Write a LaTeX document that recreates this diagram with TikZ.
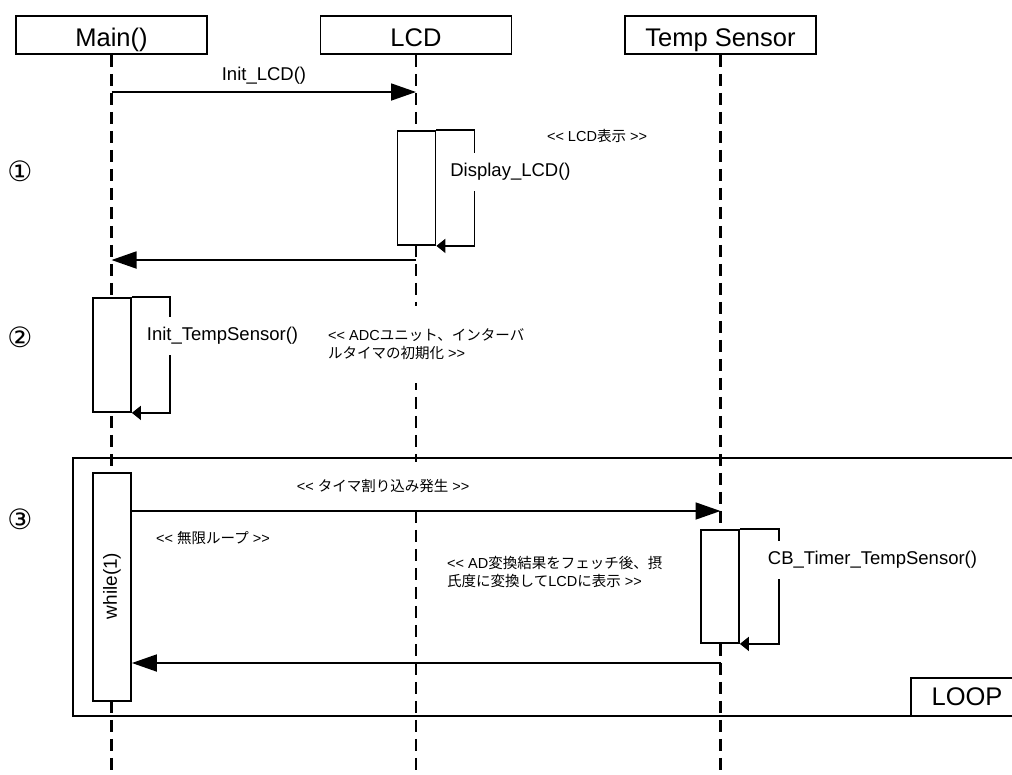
\documentclass[tikz,border=0pt]{standalone}
\usepackage{fontspec}
\setmainfont{Liberation Sans}
\newfontfamily\cjk[Scale=1.0]{Noto Sans CJK JP}
\newfontfamily\circfont{DejaVu Sans}
\usetikzlibrary{arrows.meta}
\newcommand\LL{<\kern0pt<}
\newcommand\GG{>\kern0pt>}
\tikzset{
  hdr/.style={draw, line width=1.8pt, minimum width=191pt, minimum height=38pt, inner sep=0pt, text height=25pt, text depth=2.7pt, font=\fontsize{25.5}{30}\selectfont},
  life/.style={line width=2.8pt, dash pattern=on 12pt off 7pt},
  act/.style={draw, fill=white, line width=1.8pt, minimum width=38pt, inner sep=0pt},
  msg/.style={line width=1.8pt, -{Triangle[length=25pt,width=17pt]}},
  selfmsg/.style={line width=1.8pt, -{Triangle[length=9pt,width=14pt]}},
  lbl/.style={fill=white, inner xsep=1pt, inner ysep=10pt, font=\fontsize{18.5}{22}\selectfont},
  note/.style={inner sep=0pt, font=\fontsize{14.5}{17.5}\selectfont},
  num/.style={inner sep=0pt, font=\circfont\fontsize{28}{30}\selectfont},
  frame/.style={line width=1.8pt}
}
\begin{document}
\begin{tikzpicture}[x=1pt,y=-1pt]
\useasboundingbox (0,0) rectangle (1012,774);
% headers
\node[hdr] (main) at (111.5,35) {Main()};
\node[hdr] (lcd) at (416,35) {LCD};
\node[hdr] (temp) at (720.5,35) {Temp Sensor};
% lifeline ends
\coordinate (mainEnd) at (main.south |- 0,774);
\coordinate (lcdEnd) at (lcd.south |- 0,774);
\coordinate (tempEnd) at (temp.south |- 0,774);
\draw[life] (main.south) -- (mainEnd);
\draw[life] (lcd.south) -- (lcdEnd);
\draw[life] (temp.south) -- (tempEnd);
% loop frame
\coordinate (fTR) at (1012,458);
\coordinate (fBL) at (73,716);
\coordinate (fBR) at (1012,716);
\draw[frame] (fTR) -| (fBL) -- (fBR);
\coordinate (tagBL) at (911,716);
\coordinate (tagTR) at (1012,678);
\draw[frame] (tagBL) |- (tagTR);
\node[font=\fontsize{25.5}{30}\selectfont, inner sep=0pt] (loop) at (967,697) {LOOP};
% notes (white background hides lifelines)
\node[note] (n1) at (597,136) {\LL{} LCD{\cjk 表示} \GG};
\node[note, fill=white, align=left, anchor=west, minimum height=77pt] (n2) at (328,344) {\LL{} ADC{\cjk ユニット、インターバ}\\{\cjk ルタイマの初期化} \GG};
\node[note, fill=white, minimum height=48pt] (n3) at (383,486) {\LL{} {\cjk タイマ割り込み発生} \GG};
\node[note] (n4) at (213,538) {\LL{} {\cjk 無限ループ} \GG};
\node[note, align=left, anchor=west] (n5) at (447,572) {\LL{} AD{\cjk 変換結果をフェッチ後、摂}\\{\cjk 氏度に変換して}LCD{\cjk に表示} \GG};
% activations
\node[act, minimum height=114pt] (a1) at (416.5,188) {};
\node[act, minimum height=114pt] (a2) at (112,355) {};
\node[act, minimum height=228pt] (wh) at (112,587) {};
\node[act, minimum height=113pt] (a3) at (720,586.5) {};
% self calls
\draw[selfmsg] (a1.north east) -- ++(38,0) |- (a1.south east);
\draw[selfmsg] (a2.north east) -- ++(38,0) |- (a2.south east);
\draw[selfmsg] (a3.north east) -- ++(39,0) |- (a3.south east);
\node[lbl] (l1) at (510.5,172) {Display\_LCD()};
\node[lbl] (l2) at (222.5,336) {Init\_TempSensor()};
\node[lbl] (l3) at (872.5,560) {CB\_Timer\_TempSensor()};
% messages
\draw[msg] (main.south |- 0,92) -- (lcd.south |- 0,92);
\node[font=\fontsize{18.5}{22}\selectfont, inner sep=0pt] (m1) at (264,76) {Init\_LCD()};
\draw[msg] (lcd.south |- 0,260) -- (main.south |- 0,260);
\draw[msg] (wh.east |- 0,511) -- (temp.south |- 0,511);
\draw[msg] (temp.south |- 0,663) -- (wh.east |- 0,663);
\node[inner sep=0pt, rotate=90, font=\fontsize{19}{22}\selectfont] (w) at (112,586) {while(1)};
% step numbers
\node[num] (c1) at (20,171) {①};
\node[num] (c2) at (20,337) {②};
\node[num] (c3) at (20,519) {③};
\end{tikzpicture}
\end{document}
